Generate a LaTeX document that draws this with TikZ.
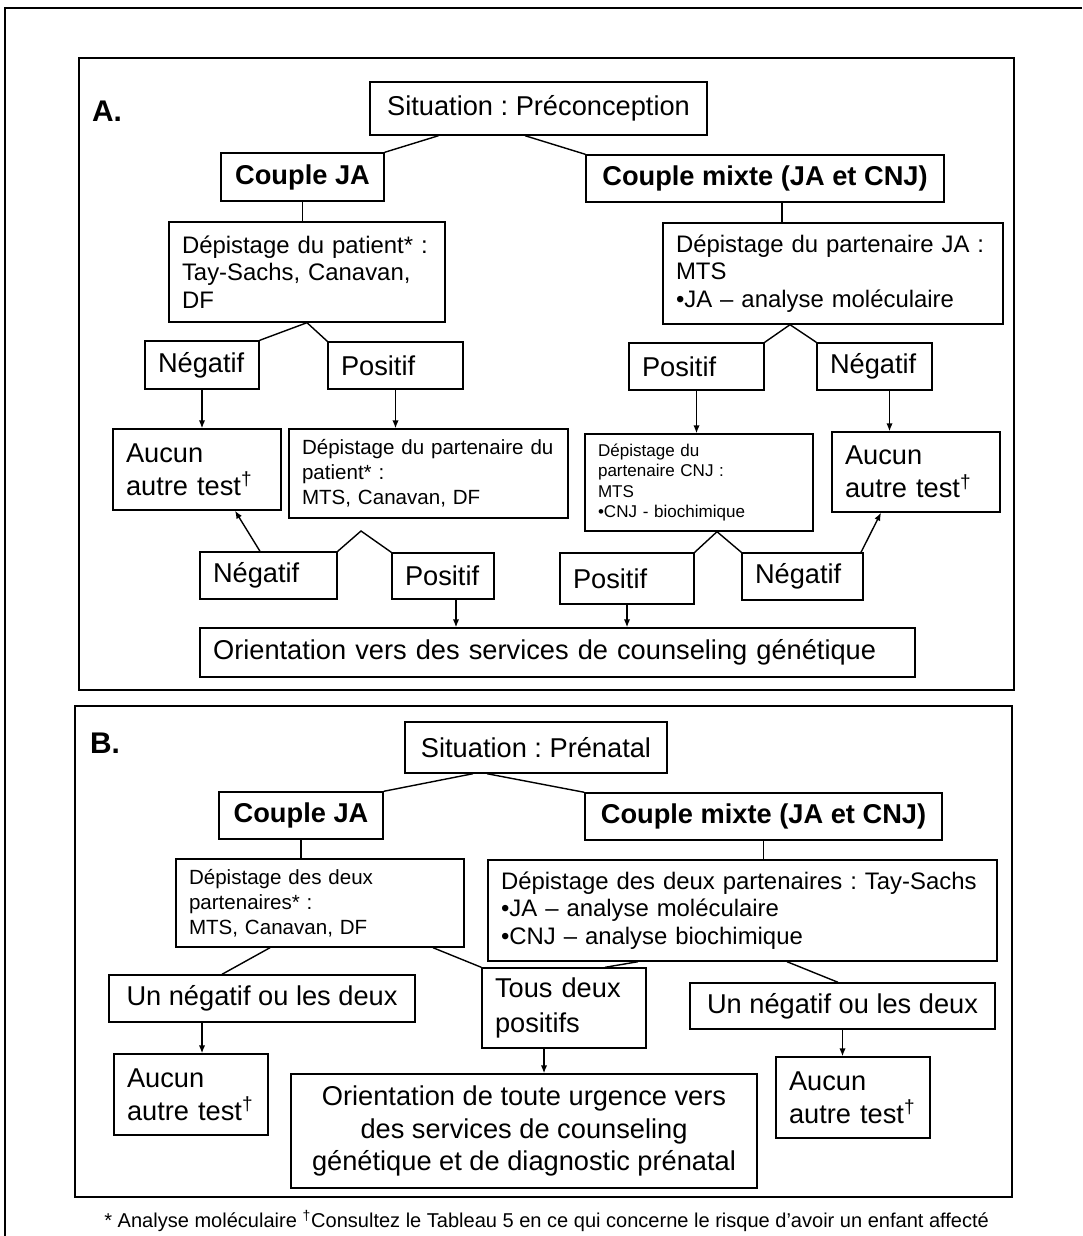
\documentclass[tikz,border=0pt]{standalone}
\usepackage{fontspec}
\setmainfont{Liberation Sans}
\usetikzlibrary{arrows.meta,calc}
\newcommand{\setfs}[2]{\fontsize{#1}{#2}\selectfont}
\frenchspacing

\begin{document}
\begin{tikzpicture}[x=0.02cm,y=-0.02cm,>={Latex[length=4.5pt,width=3.6pt]},
  box/.style={draw,line width=0.8pt,inner xsep=0.26cm,inner ysep=2pt,align=left},
  lab/.style={box,font=\setfs{15.5}{18.7}},
  ctr/.style={lab,align=center},
  head/.style={box,align=center,font=\bfseries\setfs{15.5}{18.7}},
  txt/.style={box,font=\setfs{13.6}{15.6}},
  sml/.style={box,font=\setfs{11.7}{14.2}},
  tny/.style={box,font=\setfs{9.7}{11.6}},
  link/.style={line width=0.8pt},
  arr/.style={->,line width=0.8pt}]
  \useasboundingbox (0,0) rectangle (1082,1236);

  % Outer frame
  \draw[line width=1pt] (5,1236) -- (5,8) -- (1082,8);

  % Panel A: preconception
  \draw[line width=1pt] (79,58) rectangle (1014,690);
  \node[font=\bfseries\setfs{17}{20}] (labA) at (107,111) {A.};

  \node[ctr,minimum width=6.74cm,minimum height=1.06cm] (sitA) at (538.5,108.5) {Situation : Préconception};
  \node[head,minimum width=3.26cm,minimum height=0.96cm] (cjaA) at (302.5,177) {Couple JA};
  \node[head,minimum width=7.16cm,minimum height=0.94cm] (cmxA) at (765,178.5) {Couple mixte (JA et CNJ)};

  \node[txt,text width=5.0cm,minimum height=2.0cm] (dpatA) at (307,272)
    {Dépistage du patient* :\\Tay-Sachs, Canavan,\\DF};
  \node[txt,text width=6.28cm,minimum height=2.02cm] (dpjA) at (833,273.5)
    {Dépistage du partenaire JA :\\MTS\\•JA – analyse moléculaire};

  \node[lab,text width=1.76cm,minimum height=0.96cm] (negA1) at (202,365) {Négatif};
  \node[lab,text width=2.18cm,minimum height=0.94cm] (posA1) at (395.5,365.5) {Positif};
  \node[lab,text width=2.18cm,minimum height=0.94cm] (posA2) at (696.5,366.5) {Positif};
  \node[lab,text width=1.78cm,minimum height=0.94cm] (negA2) at (874.5,366.5) {Négatif};

  \node[lab,text width=2.84cm,minimum height=1.62cm] (aucA1) at (197,469.5) {Aucun\\autre test\textsuperscript{†}};
  \node[sml,text width=5.06cm,minimum height=1.78cm] (dppA) at (428.5,473.5)
    {Dépistage du partenaire du\\patient* :\\MTS, Canavan, DF};
  \node[tny,text width=4.04cm,minimum height=1.94cm] (dcnjA) at (699,482.5)
    {Dépistage du\\partenaire CNJ :\\MTS\\•CNJ - biochimique};
  \node[lab,text width=2.84cm,minimum height=1.6cm] (aucA2) at (916,472) {Aucun\\autre test\textsuperscript{†}};

  \node[lab,text width=2.22cm,minimum height=0.94cm] (negA3) at (268.5,575.5) {Négatif};
  \node[lab,text width=1.52cm,minimum height=0.92cm] (posA3) at (443,576) {Positif};
  \node[lab,text width=2.16cm,minimum height=1.02cm] (posA4) at (627,578.5) {Positif};
  \node[lab,text width=1.9cm,minimum height=0.94cm] (negA4) at (802.5,576.5) {Négatif};

  \node[lab,text width=13.78cm,minimum height=0.98cm] (oriA) at (557.5,652.5)
    {Orientation vers des services de counseling génétique};

  % Panel A links
  \draw[link] ([xshift=-2cm]sitA.south) -- (cjaA.north east);
  \draw[link] ([xshift=-0.27cm]sitA.south) -- (cmxA.north west);
  \draw[link] (cjaA.south) -- (cjaA.south |- dpatA.north);
  \draw[link] ([xshift=0.34cm]cmxA.south) -- ([xshift=0.34cm]cmxA.south |- dpjA.north);
  \draw[link] (negA1.north east) -- (dpatA.south) -- (posA1.north west);
  \draw[link] (posA2.north east) -- ([xshift=-0.86cm]dpjA.south) -- (negA2.north west);
  \draw[arr] (negA1.south) -- (negA1.south |- aucA1.north);
  \draw[arr] (posA1.south) -- (posA1.south |- dppA.north);
  \draw[arr] (posA2.south) -- (posA2.south |- dcnjA.north);
  \draw[arr] ([xshift=0.3cm]negA2.south) -- ([xshift=0.3cm]negA2.south |- aucA2.north);
  \coordinate (pkA) at (361,531);
  \draw[link] (negA3.north east) -- (pkA) -- (posA3.north west);
  \draw[link] (posA4.north east) -- ([xshift=0.36cm]dcnjA.south) -- (negA4.north west);
  \draw[arr] ([xshift=-0.17cm]negA3.north) -- ([xshift=0.76cm]aucA1.south);
  \draw[arr] ([xshift=1.17cm]negA4.north) -- ([xshift=-0.7cm]aucA2.south);
  \draw[arr] ([xshift=0.26cm]posA3.south) -- ([xshift=0.26cm]posA3.south |- oriA.north);
  \draw[arr] (posA4.south) -- (posA4.south |- oriA.north);

  % Panel B: prenatal
  \draw[line width=1pt] (75,706) rectangle (1012,1197);
  \node[font=\bfseries\setfs{17}{20}] (labB) at (105,743) {B.};

  \node[ctr,minimum width=5.24cm,minimum height=1.02cm] (sitB) at (536,747.5) {Situation : Prénatal};
  \node[head,minimum width=3.28cm,minimum height=0.94cm] (cjaB) at (301,815.5) {Couple JA};
  \node[head,minimum width=7.14cm,minimum height=0.94cm] (cmxB) at (763.5,816.5) {Couple mixte (JA et CNJ)};

  \node[sml,text width=5.24cm,minimum height=1.76cm] (ddB1) at (320,903)
    {Dépistage des deux\\partenaires* :\\MTS, Canavan, DF};
  \node[txt,text width=9.66cm,minimum height=2.02cm] (ddB2) at (742.5,910.5)
    {Dépistage des deux partenaires : Tay-Sachs\\•JA – analyse moléculaire\\•CNJ – analyse biochimique};

  \node[ctr,minimum width=6.12cm,minimum height=0.94cm] (unB1) at (262,998.5) {Un négatif ou les deux};
  \node[lab,text width=2.76cm,minimum height=1.6cm,font=\setfs{15.5}{19.5}] (tdB) at (564,1008) {Tous deux\\positifs};
  \node[ctr,minimum width=6.1cm,minimum height=0.92cm] (unB2) at (842.5,1006) {Un négatif ou les deux};

  \node[lab,text width=2.56cm,minimum height=1.62cm] (aucB1) at (191,1094.5) {Aucun\\autre test\textsuperscript{†}};
  \node[ctr,minimum width=9.32cm,minimum height=2.28cm] (oriB) at (524,1131)
    {Orientation de toute urgence vers\\des services de counseling\\génétique et de diagnostic prénatal};
  \node[lab,text width=2.56cm,minimum height=1.62cm] (aucB2) at (853,1097.5) {Aucun\\autre test\textsuperscript{†}};

  % Panel B links
  \draw[link] ([xshift=-1.26cm]sitB.south) -- (cjaB.north east);
  \draw[link] ([xshift=-0.98cm]sitB.south) -- (cmxB.north west);
  \draw[link] (cjaB.south) -- (cjaB.south |- ddB1.north);
  \draw[link] (cmxB.south) -- (cmxB.south |- ddB2.north);
  \draw[link] ([xshift=-1cm]ddB1.south) -- ([xshift=-0.8cm]unB1.north);
  \draw[link] ([xshift=2.26cm]ddB1.south) -- (tdB.north west);
  \draw[link] ([xshift=-2.09cm]ddB2.south) -- ([xshift=0.82cm]tdB.north);
  \draw[link] ([xshift=0.89cm]ddB2.south) -- ([xshift=-0.09cm]unB2.north);
  \draw[arr] ([xshift=-1.2cm]unB1.south) -- ([xshift=-1.2cm]unB1.south |- aucB1.north);
  \draw[arr] ([xshift=-0.4cm]tdB.south) -- ([xshift=-0.4cm]tdB.south |- oriB.north);
  \draw[arr] (unB2.south) -- (unB2.south |- aucB2.north);

  % Footnote
  \node[anchor=west,inner sep=0pt,font=\setfs{11.4}{13}] (note) at (104,1221)
    {* Analyse moléculaire \textsuperscript{†}Consultez le Tableau 5 en ce qui concerne le risque d’avoir un enfant affecté};
\end{tikzpicture}
\end{document}
